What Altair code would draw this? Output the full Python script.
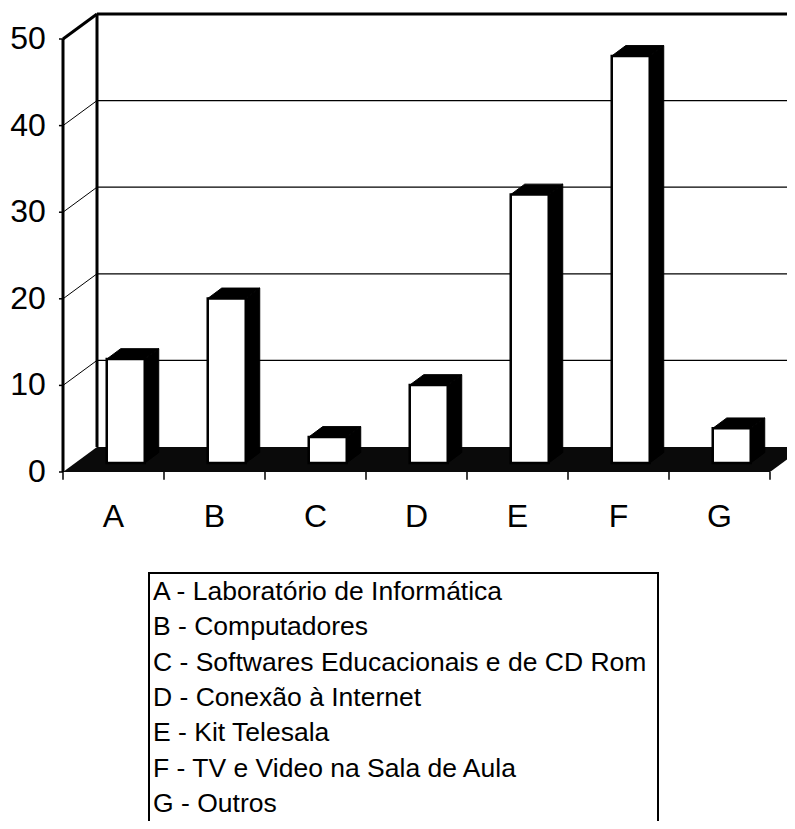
import altair as alt
import pandas as pd

# ---------------- data ----------------
categories = ["A", "B", "C", "D", "E", "F", "G"]
values = [12, 19, 3, 9, 31, 47, 4]
y_ticks = [0, 10, 20, 30, 40, 50]
legend_labels = [
    "A - Laboratório de Informática",
    "B - Computadores",
    "C - Softwares Educacionais e de CD Rom",
    "D - Conexão à Internet",
    "E - Kit Telesala",
    "F - TV e Video na Sala de Aula",
    "G - Outros",
]

# ---------------- geometry (category units / value units) ----------------
PX_U = 101.0          # pixels per category
PX_V = 8.66           # pixels per value unit
OX, OY = 63, 472      # page position of the front origin
W, H = 779, 813
X_DOM = [(8 - OX) / PX_U, (8 + W - OX) / PX_U]
Y_DOM = [(OY - 8 - H) / PX_V, (OY - 8) / PX_V]
DX, DY = 34 / PX_U, 25 / PX_V          # back wall offset
F0 = 0.36                               # depth at which bars stand
BW = 38 / PX_U                          # bar front width
BDX, BDY = 14 / PX_U, 10.4 / PX_V       # bar depth
N = len(categories)
YMAX = 50
FONT = "Liberation Sans"

xs = alt.Scale(domain=X_DOM, nice=False, zero=False)
ys = alt.Scale(domain=Y_DOM, nice=False, zero=False)


def X(f):
    return alt.X(f, type="quantitative", scale=xs, axis=None)


def Y(f):
    return alt.Y(f, type="quantitative", scale=ys, axis=None)


def rules(rows, width, color="black"):
    df = pd.DataFrame(rows, columns=["x1", "y1", "x2", "y2"])
    return alt.Chart(df).mark_rule(color=color, strokeWidth=width).encode(
        x=X("x1"), y=Y("y1"), x2="x2:Q", y2="y2:Q"
    )


# floor
floor_df = pd.DataFrame({"v": [0, DY], "u1": [0, DX], "u2": [N, N + DX]})
floor = alt.Chart(floor_df).mark_area(orient="horizontal", color="#0a0a0a").encode(
    y=Y("v"), x=alt.X("u1:Q", scale=xs, axis=None, stack=None), x2="u2:Q"
)

grid_back = rules([[DX, k + DY, X_DOM[1] + 1, k + DY] for k in y_ticks if 0 < k < YMAX], 1.3)
grid_diag = rules([[0, k, DX, k + DY] for k in y_ticks if 0 < k < YMAX], 1)
frame = rules(
    [
        [0, 0, 0, YMAX],
        [DX, DY, DX, YMAX + DY],
        [0, YMAX, DX, YMAX + DY],
        [DX, YMAX + DY, X_DOM[1] + 1, YMAX + DY],
    ],
    3,
)
yticks = rules([[-0.04, k, 0, k] for k in y_ticks], 1.5)
xticks = rules([[i, 0, i, -0.9] for i in range(N + 1)], 1.5)

# bars
front_rows, top_rows, side_rows = [], [], []
for i, (c, v) in enumerate(zip(categories, values)):
    xl = i + 0.5 - BW / 2 + F0 * DX
    xr = xl + BW
    vb = F0 * DY
    vt = vb + v
    front_rows.append({"cat": c, "x1": xl, "x2": xr, "y1": vb, "y2": vt})
    top_rows.append({"cat": c, "v": vt, "u1": xl, "u2": xr})
    top_rows.append({"cat": c, "v": vt + BDY, "u1": xl + BDX, "u2": xr + BDX})
    side_rows.append({"cat": c, "u": xr, "v1": vb, "v2": vt})
    side_rows.append({"cat": c, "u": xr + BDX, "v1": vb + BDY, "v2": vt + BDY})

side = alt.Chart(pd.DataFrame(side_rows)).mark_area(color="black", stroke="black", strokeWidth=1).encode(
    x=X("u"), y=alt.Y("v1:Q", scale=ys, axis=None, stack=None), y2="v2:Q", detail="cat:N"
)
top = alt.Chart(pd.DataFrame(top_rows)).mark_area(orient="horizontal", color="black", stroke="black", strokeWidth=1).encode(
    y=Y("v"), x=alt.X("u1:Q", scale=xs, axis=None, stack=None), x2="u2:Q", detail="cat:N"
)
front = alt.Chart(pd.DataFrame(front_rows)).mark_rect(fill="white", stroke="black", strokeWidth=2.5).encode(
    x=X("x1"), x2="x2:Q", y=Y("y1"), y2="y2:Q"
)

# tick labels
ylab = alt.Chart(pd.DataFrame({"v": y_ticks, "u": -0.17, "t": [str(k) for k in y_ticks]})).mark_text(
    align="right", baseline="middle", fontSize=32, font=FONT, color="black"
).encode(x=X("u"), y=Y("v"), text="t:N")

xlab = alt.Chart(pd.DataFrame({"u": [i + 0.5 for i in range(N)], "v": -5.2, "t": categories})).mark_text(
    align="center", baseline="middle", fontSize=32, font=FONT, color="black"
).encode(x=X("u"), y=Y("v"), text="t:N")

# legend box
box_df = pd.DataFrame({"x1": [(149 - OX) / PX_U], "x2": [(658 - OX) / PX_U],
                       "y1": [(OY - 573) / PX_V], "y2": [Y_DOM[0] - 5]})
box = alt.Chart(box_df).mark_rect(fill="white", stroke="black", strokeWidth=2).encode(
    x=X("x1"), x2="x2:Q", y=Y("y1"), y2="y2:Q"
)
leg_df = pd.DataFrame({
    "t": legend_labels,
    "u": (153 - OX) / PX_U,
    "v": [(OY - 592 - 35.3 * i) / PX_V for i in range(len(legend_labels))],
})
legend = alt.Chart(leg_df).mark_text(
    align="left", baseline="middle", fontSize=26.5, font=FONT, color="black"
).encode(x=X("u"), y=Y("v"), text="t:N")

chart = alt.layer(
    grid_back, grid_diag, floor, frame, yticks, xticks, side, top, front, ylab, xlab, box, legend
).properties(
    width=W, height=H, autosize=alt.AutoSizeParams(type="none"), padding=0
).configure_view(stroke=None)

chart.save("out.html", embed_options={"renderer": "svg", "actions": False})
